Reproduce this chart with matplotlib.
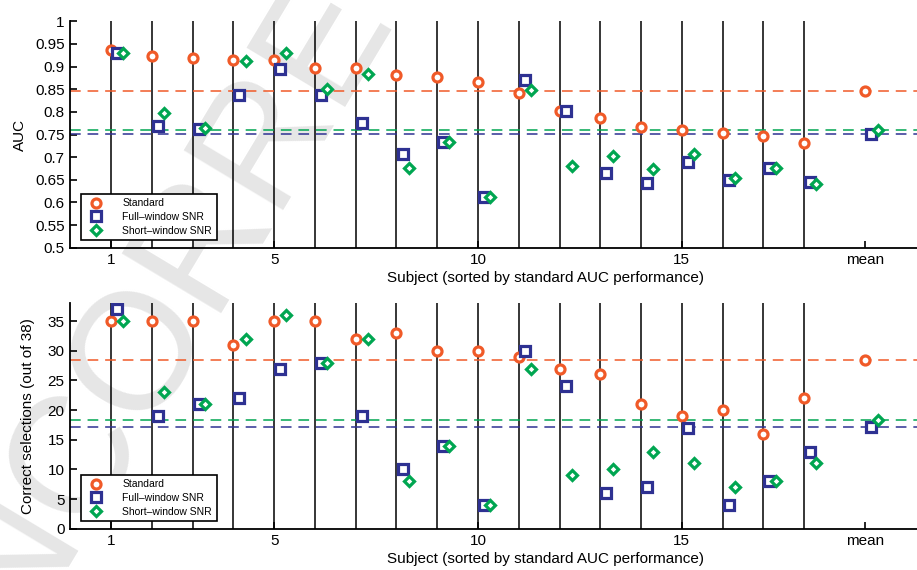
import matplotlib
matplotlib.use('Agg')
import matplotlib.pyplot as plt

plt.rcParams['font.family'] = ['Liberation Sans', 'DejaVu Sans']

subjects = list(range(1, 19))
mean_pos = 19.5
tick_pos = [1, 5, 10, 15, mean_pos]
tick_labels = ['1', '5', '10', '15', 'mean']

# AUC per subject
auc_std = [0.936, 0.923, 0.918, 0.915, 0.915, 0.898, 0.896, 0.882, 0.877,
           0.867, 0.841, 0.803, 0.786, 0.767, 0.760, 0.753, 0.747, 0.731]
auc_full = [0.931, 0.768, 0.763, 0.837, 0.894, 0.837, 0.775, 0.707, 0.733,
            0.612, 0.870, 0.803, 0.664, 0.644, 0.690, 0.650, 0.675, 0.645]
auc_short = [0.929, 0.797, 0.764, 0.912, 0.931, 0.850, 0.884, 0.677, 0.733,
             0.612, 0.848, 0.681, 0.703, 0.673, 0.706, 0.653, 0.675, 0.640]
auc_mean = [0.847, 0.751, 0.759]

# correct selections (out of 38)
sel_std = [35, 35, 35, 31, 35, 35, 32, 33, 30, 30, 29, 27, 26, 21, 19, 20, 16, 22]
sel_full = [37, 19, 21, 22, 27, 28, 19, 10, 14, 4, 30, 24, 6, 7, 17, 4, 8, 13]
sel_short = [35, 23, 21, 32, 36, 28, 32, 8, 14, 4, 27, 9, 10, 13, 11, 7, 8, 11]
sel_mean = [28.4, 17.2, 18.3]

names = ['Standard', 'Full\u2013window SNR', 'Short\u2013window SNR']
colors = ['#f05a28', '#2e3192', '#00a651']
markers = ['o', 's', 'D']
msizes = [6.5, 6.5, 5.5]
offsets = [0, 0.15, 0.3]

fig = plt.figure(figsize=(9.17, 5.7), dpi=100)

# proof watermark behind everything
fig.text(-0.041, -0.307, 'UNCORRECTED PROOF', fontsize=120, color='#e6e6e6',
         rotation=59, ha='left', va='baseline', rotation_mode='anchor', zorder=-10)

ax1 = fig.add_axes([0.0766, 0.5654, 1.036, 0.3972])
ax2 = fig.add_axes([0.0766, 0.0725, 1.036, 0.3954])


def draw(ax, series, means, ylim, yticks, yticklabels, ylabel, ylab_x):
    ax.patch.set_alpha(0)
    for x in subjects:
        ax.axvline(x, color='black', lw=1.1, zorder=1)
    for i in range(3):
        ax.axhline(means[i], color=colors[i], lw=1.1, ls=(0, (7, 4.5)), zorder=2)
    for i in range(3):
        xs = [x + offsets[i] for x in subjects] + [mean_pos + offsets[i]]
        ys = list(series[i]) + [means[i]]
        ax.plot(xs, ys, ls='none', marker=markers[i], ms=msizes[i],
                mfc='white', mec=colors[i], mew=2.3, label=names[i], zorder=3)
    ax.set_xlim(0, 23.3)
    ax.set_ylim(*ylim)
    ax.set_xticks(tick_pos)
    ax.set_xticklabels(tick_labels)
    ax.set_yticks(yticks)
    ax.set_yticklabels(yticklabels)
    ax.tick_params(direction='in', length=5, width=1.2, labelsize=11, pad=4)
    ax.spines['top'].set_visible(False)
    ax.spines['right'].set_visible(False)
    ax.spines['left'].set_linewidth(1.3)
    ax.spines['bottom'].set_linewidth(1.3)
    ax.set_xlabel('Subject (sorted by standard AUC performance)', fontsize=11, labelpad=3)
    ax.set_ylabel(ylabel, fontsize=11)
    ax.yaxis.set_label_coords(ylab_x, 0.5)
    leg = ax.legend(loc='lower left', fontsize=7.5, frameon=True, fancybox=False,
                    edgecolor='black', borderpad=0.45, handletextpad=1.5,
                    labelspacing=0.35, bbox_to_anchor=(0.006, 0.01))
    leg.get_frame().set_linewidth(1.2)
    leg.get_frame().set_alpha(1)
    leg.set_zorder(5)


draw(ax1, [auc_std, auc_full, auc_short], auc_mean, (0.5, 1.0),
     [0.5, 0.55, 0.6, 0.65, 0.7, 0.75, 0.8, 0.85, 0.9, 0.95, 1.0],
     ['0.5', '0.55', '0.6', '0.65', '0.7', '0.75', '0.8', '0.85', '0.9', '0.95', '1'],
     'AUC', -0.046)
draw(ax2, [sel_std, sel_full, sel_short], sel_mean, (0, 38),
     [0, 5, 10, 15, 20, 25, 30, 35],
     ['0', '5', '10', '15', '20', '25', '30', '35'],
     'Correct selections (out of 38)', -0.037)

fig.savefig('out.png', dpi=100)
